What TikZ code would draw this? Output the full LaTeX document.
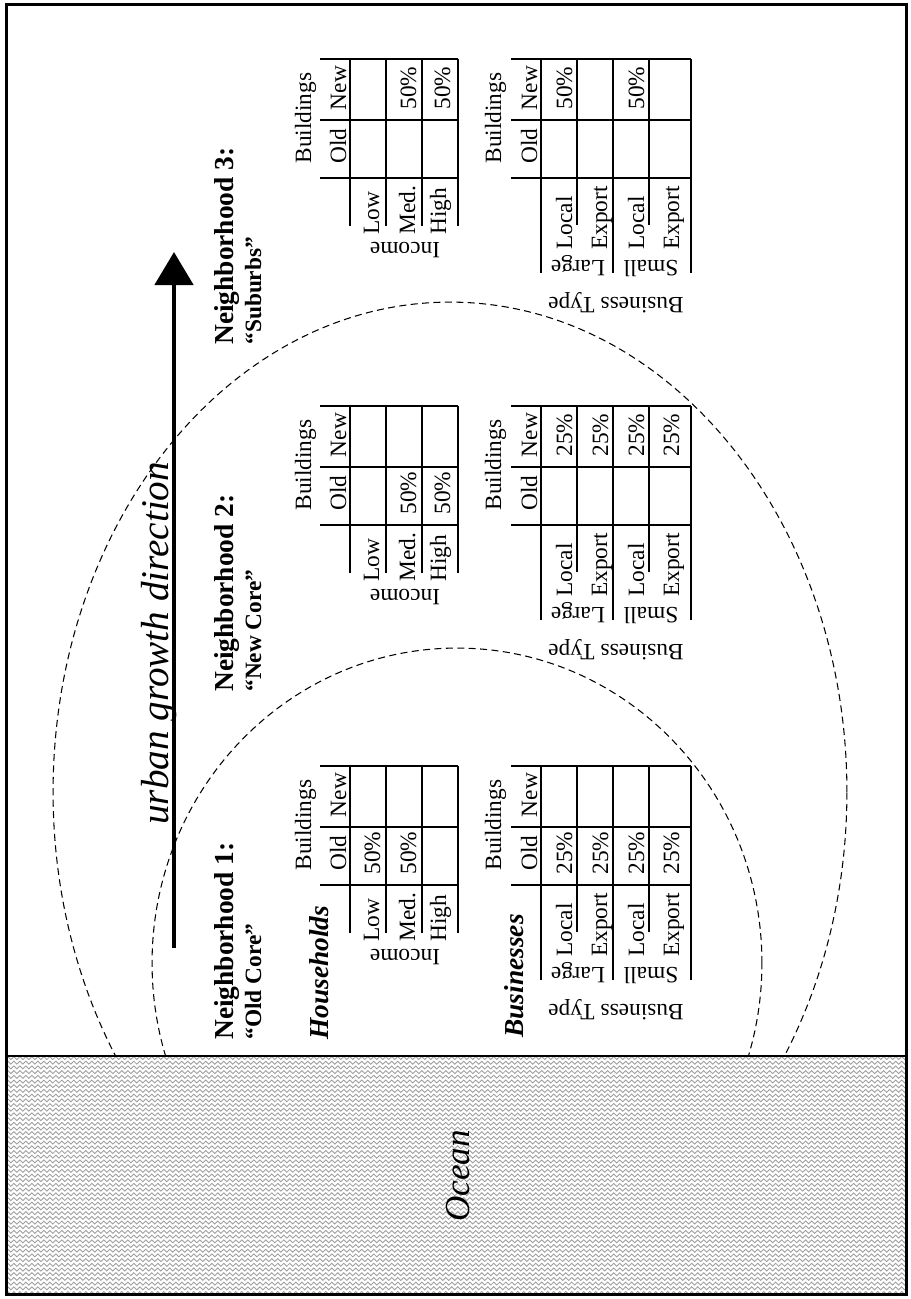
\documentclass[tikz,border=0pt]{standalone}
\usepackage{fontspec}
\setmainfont{Liberation Serif}
\usetikzlibrary{arrows.meta,decorations.pathmorphing}

\newcommand{\tabsize}{\fontsize{13.3}{16}\selectfont}
\newcommand{\headsize}{\fontsize{15.6}{18}\selectfont}

\tikzset{
  rule/.style={line width=1.1pt},
  zone/.style={line width=0.6pt, dash pattern=on 4pt off 2.5pt},
  wave/.style={gray!75, line width=0.5pt, decorate,
    decoration={snake, segment length=0.12cm, amplitude=0.03cm}},
  celltext/.style={rotate=90, anchor=base, inner sep=0pt, font=\tabsize},
  rowtext/.style={rotate=90, anchor=base west, inner sep=0pt, font=\tabsize},
  flipped/.style={rotate=180, anchor=base, inner sep=0pt, font=\tabsize},
  headtext/.style={rotate=90, anchor=base west, inner sep=0pt, font=\headsize\bfseries},
  kindtext/.style={rotate=90, anchor=base west, inner sep=0pt, font=\headsize\bfseries\itshape},
}

\begin{document}
\begin{tikzpicture}[x=0.02cm, y=-0.02cm]
\useasboundingbox (0,0) rectangle (910,1299);

% ocean
\begin{scope}
\clip (6,1056) rectangle (906,1294);
\foreach \r in {0,...,50}
  \draw[wave] (0,1058+\r*4.7) -- (910,1058+\r*4.7);
\end{scope}
\node[rotate=90, anchor=base west, inner sep=0pt, font=\fontsize{20}{24}\selectfont\itshape] (ocean) at (469,1222) {Ocean};

% zones
\begin{scope}
\clip (0,0) rectangle (910,1056);
\draw[zone] (450,792) ellipse [x radius=7.94cm, y radius=9.8cm];
\draw[zone] (457,963) ellipse [x radius=6.1cm, y radius=6.3cm];
\end{scope}

% frame and shore
\draw[line width=1.7pt] (6.5,4.5) rectangle (906,1294);
\draw[line width=1.1pt] (6.5,1056) -- (906,1056);

% growth arrow
\coordinate (tail) at (174,948);
\coordinate (tip) at (174,252);
\draw[line width=2.8pt, -{Triangle[length=0.66cm, width=0.76cm]}] (tail) -- (tip);
\node[rotate=90, anchor=base west, inner sep=0pt, font=\fontsize{22.3}{26}\selectfont\itshape] (growth) at (168,825) {urban growth direction};

\node[kindtext] (house) at (328,1040) {Households};
\node[kindtext] (biz) at (523,1038) {Businesses};

% the three tables
\foreach \dy/\hy/\nick [count=\k] in {0/1040/Old Core, -360/692/New Core, -707/345/Suburbs}{
  \node[headtext] (hood\k) at (233,\hy) {Neighborhood \k:};
  \node[headtext, font=\tabsize\bfseries] (nick\k) at (261,\hy) {``\nick''};
  \begin{scope}[shift={(0,\dy)}]
    % households
    \foreach \yy in {766,826.7,885} \draw[rule] (320,\yy) -- (458,\yy);
    \foreach \xx in {350,386,422,458} \draw[rule] (\xx,766) -- (\xx,933);
    \node[celltext] (bh\k) at (311,825) {Buildings};
    \node[celltext] (oh\k) at (346,853) {Old};
    \node[celltext] (nh\k) at (346,795) {New};
    \node[rowtext] (low\k) at (379,942) {Low};
    \node[rowtext] (med\k) at (415,942) {Med.};
    \node[rowtext] (high\k) at (446,942) {High};
    \node[flipped] (inc\k) at (405,949) {Income};
    % businesses
    \foreach \yy in {766,826.7,885} \draw[rule] (511,\yy) -- (691,\yy);
    \foreach \xx/\yend in {541/980,577/931.7,613/980,649/931.7,691/980}
      \draw[rule] (\xx,766) -- (\xx,\yend);
    \node[celltext] (bb\k) at (501,825) {Buildings};
    \node[celltext] (ob\k) at (537,853) {Old};
    \node[celltext] (nb\k) at (537,795) {New};
    \node[rowtext] (ll\k) at (572,957) {Local};
    \node[rowtext] (le\k) at (607,957) {Export};
    \node[rowtext] (sl\k) at (644,957) {Local};
    \node[rowtext] (se\k) at (679,957) {Export};
    \node[flipped] (lg\k) at (578,967) {Large};
    \node[flipped] (sm\k) at (651,967) {Small};
    \node[flipped] (bt\k) at (616,1004) {Business Type};
  \end{scope}
}

% shares, neighborhood 1
\node[celltext] (h1a) at (380,853) {50\%};
\node[celltext] (h1b) at (416,853) {50\%};
\node[celltext] (b1a) at (572,853) {25\%};
\node[celltext] (b1b) at (608,853) {25\%};
\node[celltext] (b1c) at (644,853) {25\%};
\node[celltext] (b1d) at (679,853) {25\%};
% shares, neighborhood 2
\node[celltext] (h2a) at (416,493) {50\%};
\node[celltext] (h2b) at (450,493) {50\%};
\node[celltext] (b2a) at (572,435) {25\%};
\node[celltext] (b2b) at (608,435) {25\%};
\node[celltext] (b2c) at (644,435) {25\%};
\node[celltext] (b2d) at (679,435) {25\%};
% shares, neighborhood 3
\node[celltext] (h3a) at (416,88) {50\%};
\node[celltext] (h3b) at (450,88) {50\%};
\node[celltext] (b3a) at (572,88) {50\%};
\node[celltext] (b3b) at (644,88) {50\%};
\end{tikzpicture}
\end{document}
